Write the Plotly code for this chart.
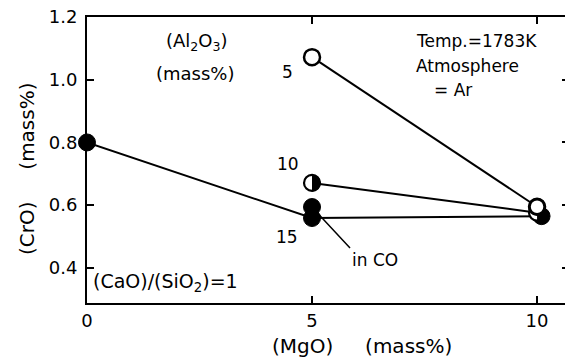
import plotly.graph_objects as go

# ---- data ----
mgo_open = [5, 10]            # Al2O3 = 5 mass%
cro_open = [1.072, 0.595]
mgo_half = [5, 10]            # Al2O3 = 10 mass%
cro_half = [0.671, 0.576]
mgo_15 = [0, 5, 10.1]         # Al2O3 = 15 mass%
cro_15 = [0.80, 0.559, 0.565]
mgo_co = [5]                  # in CO
cro_co = [0.594]

x_ticks = [0, 5, 10]
y_ticks = [0.4, 0.6, 0.8, 1.0, 1.2]
y_tick_text = ["0.4", "0.6", "0.8", "1.0", "1.2"]

FONT = "DejaVu Sans"
MS = 17
R = MS / 2
K = 0.5523 * R

fig = go.Figure()

line_style = dict(color="black", width=2)
for xs, ys in [(mgo_open, cro_open), (mgo_half, cro_half), (mgo_15, cro_15)]:
    fig.add_trace(go.Scatter(x=xs, y=ys, mode="lines", line=line_style,
                             cliponaxis=False, showlegend=False, hoverinfo="skip"))

# solid markers
fig.add_trace(go.Scatter(x=mgo_15 + mgo_co, y=cro_15 + cro_co, mode="markers",
                         marker=dict(symbol="circle", size=MS, color="black",
                                     line=dict(color="black", width=1)),
                         cliponaxis=False, showlegend=False))
# half-filled markers: white disc with outline, right half blackened by a shape
fig.add_trace(go.Scatter(x=mgo_half, y=cro_half, mode="markers",
                         marker=dict(symbol="circle", size=MS - 1, color="white",
                                     line=dict(color="black", width=2.2)),
                         cliponaxis=False, showlegend=False))
# open markers
fig.add_trace(go.Scatter(x=mgo_open, y=cro_open, mode="markers",
                         marker=dict(symbol="circle", size=MS - 1, color="white",
                                     line=dict(color="black", width=2.5)),
                         cliponaxis=False, showlegend=False))

half_path = (f"M0,{-R} C{K},{-R} {R},{-K} {R},0 "
             f"C{R},{K} {K},{R} 0,{R} Z")
for xv, yv in zip(mgo_half, cro_half):
    fig.add_shape(type="path", xref="x", yref="y", xsizemode="pixel", ysizemode="pixel",
                  xanchor=xv, yanchor=yv, path=half_path, fillcolor="black",
                  line=dict(width=0), layer="above")
# keep the open circle at MgO=10 on top of the half-filled one below it
fig.add_shape(type="circle", xref="x", yref="y", xsizemode="pixel", ysizemode="pixel",
              xanchor=mgo_open[1], yanchor=cro_open[1],
              x0=-(R - 1), x1=R - 1, y0=-(R - 1), y1=R - 1,
              fillcolor="white", line=dict(color="black", width=2.5), layer="above")

ann_font = dict(family=FONT, size=17, color="black")

def label(text, x, y, xanchor="left", size=17):
    fig.add_annotation(text=text, x=x, y=y, xref="x", yref="y", showarrow=False,
                       xanchor=xanchor, yanchor="middle",
                       font=dict(family=FONT, size=size, color="black"))

label("(Al<sub>2</sub>O<sub>3</sub>)", 1.70, 1.121, size=18)
label("(mass%)", 1.48, 1.02, size=18)
label("Temp.=1783K", 7.26, 1.123)
label("Atmosphere", 7.26, 1.043)
label("= Ar", 7.66, 0.967)
label("5", 4.46, 1.025, "center")
label("10", 4.46, 0.731, "center")
label("15", 4.44, 0.497, "center")
label("(CaO)/(SiO<sub>2</sub>)=1", 0.08, 0.353, size=19)

fig.add_annotation(text="in CO", x=mgo_co[0], y=cro_co[0], xref="x", yref="y",
                   showarrow=True, arrowhead=0, arrowwidth=1.5, arrowcolor="black",
                   ax=38, ay=41, xanchor="left", yanchor="top", standoff=8,
                   font=ann_font)

# axis titles
title_font = dict(family=FONT, size=20, color="black")
fig.add_annotation(text="(MgO)     (mass%)", xref="paper", yref="paper",
                   x=0.5705, y=-0.150, xanchor="center", yanchor="middle",
                   showarrow=False, font=title_font)
fig.add_annotation(text="(CrO)     (mass%)", xref="paper", yref="paper",
                   x=-0.1245, y=0.472, xanchor="center", yanchor="middle",
                   textangle=-90, showarrow=False, font=title_font)

axis_common = dict(showline=True, linecolor="black", linewidth=2, mirror="ticks",
                   ticks="inside", ticklen=7, tickwidth=2, tickcolor="black",
                   showgrid=False, zeroline=False, automargin=False,
                   ticklabeloverflow="allow",
                   tickfont=dict(family=FONT, size=18, color="black"))

fig.update_xaxes(range=[0, 10.71], tickvals=x_ticks, ticktext=[str(v) for v in x_ticks],
                 **axis_common)
fig.update_yaxes(range=[0.288, 1.2], tickvals=y_ticks, ticktext=y_tick_text,
                 ticklabelstandoff=4, **axis_common)

fig.update_layout(width=573, height=360, margin=dict(l=79, r=12, t=9, b=65),
                  paper_bgcolor="white", plot_bgcolor="white",
                  font=dict(family=FONT, color="black"), showlegend=False)

fig.write_html("out.html")
